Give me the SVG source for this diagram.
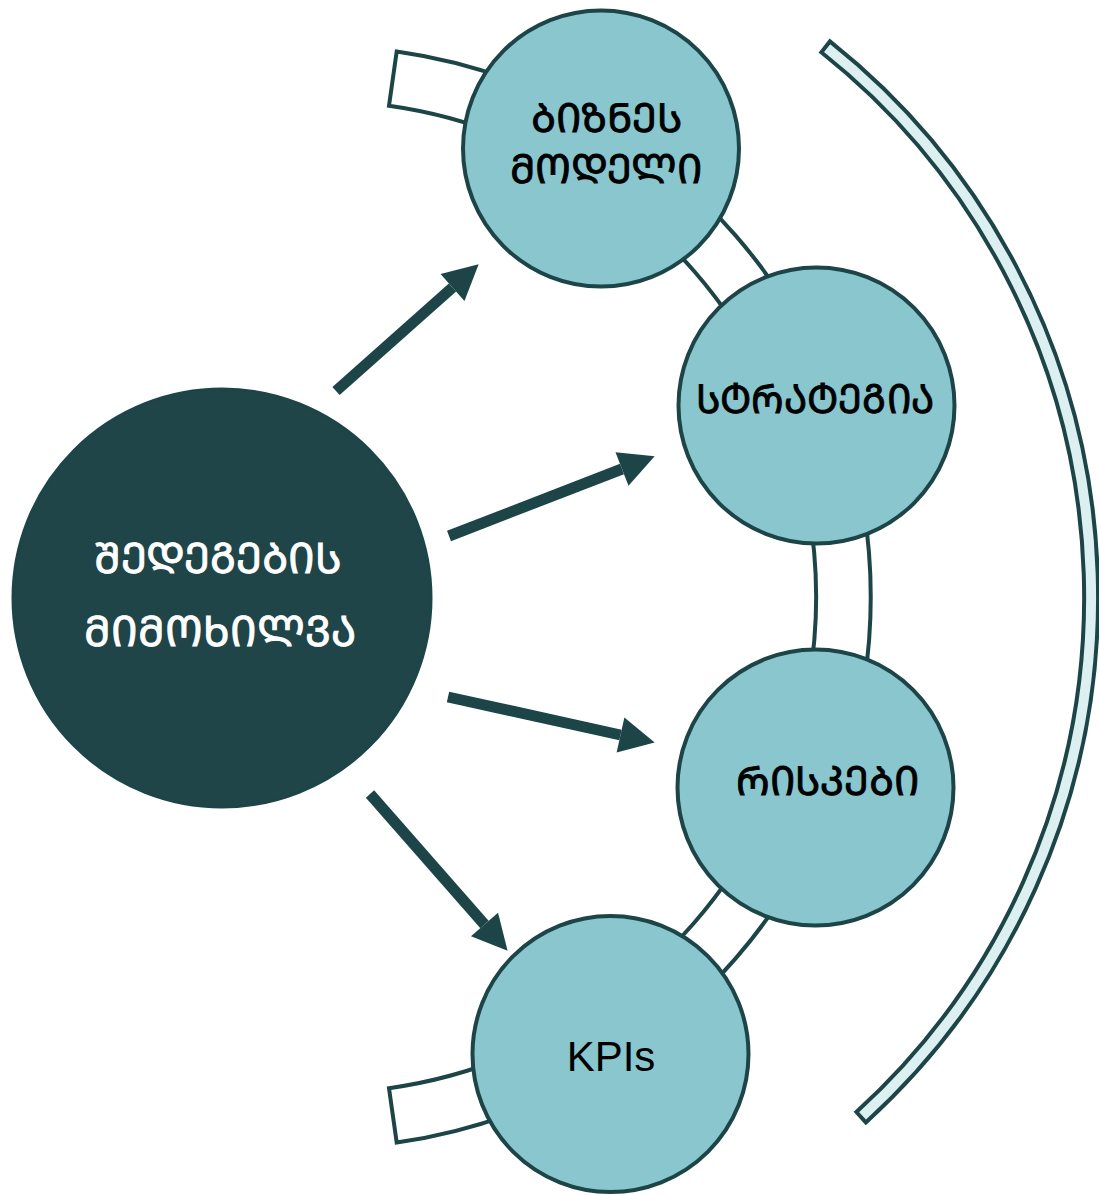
<svg xmlns="http://www.w3.org/2000/svg" width="1099" height="1195" viewBox="0 0 1099 1195">
  <style>
    .band { fill: #ffffff; stroke: #1d4548; stroke-width: 4; }
    .bracket { fill: #dceff1; stroke: #1d4548; stroke-width: 4; stroke-linejoin: miter; }
    .step { fill: #8ac6ce; stroke: #1d4548; stroke-width: 4; }
    .hub { fill: #1f4549; stroke: #1d4548; stroke-width: 3; }
    .lbl { font-family: "DejaVu Sans", "Noto Sans", sans-serif; font-size: 40px; fill: #000000; stroke: #000000; stroke-width: 0.9; text-anchor: middle; }
    .hub-lbl { font-size: 42px; fill: #ffffff; stroke: #ffffff; }
    .kpi { font-family: "Liberation Sans", Arial, sans-serif; font-size: 42px; fill: #000000; text-anchor: middle; }
    .arrow { stroke: #1d4548; stroke-width: 11; fill: none; marker-end: url(#head); }
  </style>
  <defs>
    <marker id="head" markerUnits="userSpaceOnUse" markerWidth="40" markerHeight="40" refX="0" refY="18" orient="auto" viewBox="0 0 40 36" overflow="visible">
      <path d="M0,0 L35,18 L0,36 Z" fill="#1d4548"/>
    </marker>
  </defs>

  <!-- ring band linking the four steps -->
  <path class="band" d="M396.7,51.4 A551,551 0 0 1 396.7,1142.6 L389,1088.2 A496,496 0 0 0 389,105.8 Z"/>

  <!-- outer bracket arc on the right -->
  <path class="bracket" d="M829.9,41.4 A710,710 0 0 1 865.8,1122.4 L856.4,1112 A696,696 0 0 0 821.3,52.3 Z"/>

  <g id="steps">
    <g id="node-business-model">
      <circle class="step" cx="601" cy="148.5" r="138"/>
      <text class="lbl" x="606" y="132">&#x1C91;&#x1C98;&#x1C96;&#x1C9C;&#x1C94;&#x1CA1;</text>
      <text class="lbl" x="606" y="183">&#x1C9B;&#x1C9D;&#x1C93;&#x1C94;&#x1C9A;&#x1C98;</text>
    </g>
    <g id="node-strategy">
      <circle class="step" cx="816.5" cy="405.5" r="138"/>
      <text class="lbl" x="815" y="413" textLength="238" lengthAdjust="spacingAndGlyphs">&#x1CA1;&#x1CA2;&#x1CA0;&#x1C90;&#x1CA2;&#x1C94;&#x1C92;&#x1C98;&#x1C90;</text>
    </g>
    <g id="node-risks">
      <circle class="step" cx="815.5" cy="787.5" r="138"/>
      <text class="lbl" x="827" y="795">&#x1CA0;&#x1C98;&#x1CA1;&#x1C99;&#x1C94;&#x1C91;&#x1C98;</text>
    </g>
    <g id="node-kpis">
      <circle class="step" cx="610.5" cy="1054" r="138"/>
      <text class="kpi" x="611" y="1071">KPIs</text>
    </g>
  </g>

  <g id="node-results-review">
    <circle class="hub" cx="222" cy="598" r="209"/>
    <text class="lbl hub-lbl" x="218" y="573">&#x1CA8;&#x1C94;&#x1C93;&#x1C94;&#x1C92;&#x1C94;&#x1C91;&#x1C98;&#x1CA1;</text>
    <text class="lbl hub-lbl" x="220" y="646">&#x1C9B;&#x1C98;&#x1C9B;&#x1C9D;&#x1CAE;&#x1C98;&#x1C9A;&#x1C95;&#x1C90;</text>
  </g>

  <g id="connectors">
    <line class="arrow" x1="336" y1="391" x2="452.5" y2="287.5"/>
    <line class="arrow" x1="449" y1="536" x2="622" y2="469"/>
    <line class="arrow" x1="448" y1="697" x2="620.5" y2="735"/>
    <line class="arrow" x1="370" y1="794" x2="484.5" y2="924.5"/>
  </g>
</svg>
